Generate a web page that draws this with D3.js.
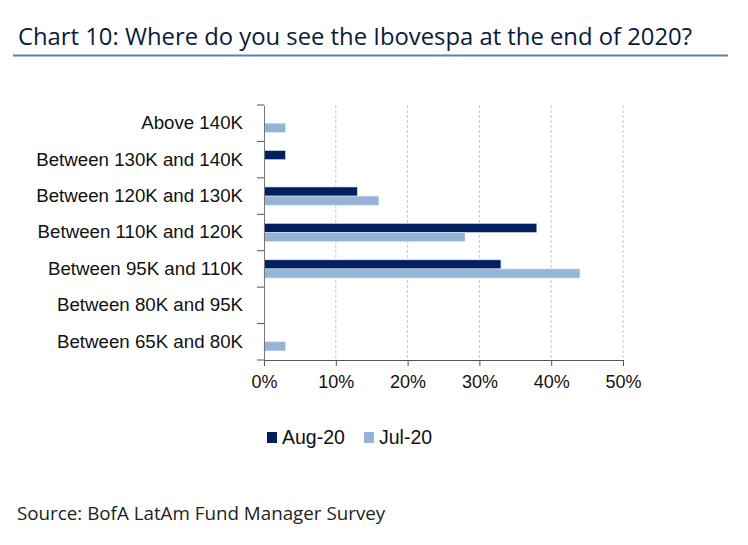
<!DOCTYPE html>
<html>
<head>
<meta charset="utf-8">
<script src="https://cdn.jsdelivr.net/npm/d3@7"></script>
<style>
  body { margin: 0; background: #fff; }
  svg { display: block; }
</style>
</head>
<body>
<svg id="chart" width="748" height="545"></svg>
<script>
const categories = [
  "Above 140K",
  "Between 130K and 140K",
  "Between 120K and 130K",
  "Between 110K and 120K",
  "Between 95K and 110K",
  "Between 80K and 95K",
  "Between 65K and 80K"
];
const seriesNames = ["Aug-20", "Jul-20"];
const aug20 = [0, 3, 13, 38, 33, 0, 0];
const jul20 = [3, 0, 16, 28, 44, 0, 3];
const xTicks = [0, 10, 20, 30, 40, 50];
const colors = ["#00205f", "#95b3d7"];

const svg = d3.select("#chart");

// title + rule
svg.append("text")
  .attr("x", 18).attr("y", 45)
  .attr("font-family", "'Open Sans', sans-serif")
  .attr("font-size", 24.5)
  .attr("textLength", 674)
  .attr("lengthAdjust", "spacingAndGlyphs")
  .attr("fill", "#0a1a3c")
  .text("Chart 10: Where do you see the Ibovespa at the end of 2020?");
svg.append("line")
  .attr("x1", 13).attr("x2", 728).attr("y1", 55.5).attr("y2", 55.5)
  .attr("stroke", "#5b7fb0").attr("stroke-width", 2.2);

const plotL = 264, plotR = 623, plotT = 105, plotB = 360;

const x = d3.scaleLinear().domain([0, 50]).range([plotL, plotR]);
const y = d3.scaleBand().domain(categories).range([plotT, plotB]);
const sub = d3.scaleBand().domain(seriesNames)
  .range([y.bandwidth() * 0.25, y.bandwidth() * 0.75]);

const g = svg.append("g").attr("font-family", "'Liberation Sans', Arial, sans-serif");

// dashed gridlines
g.selectAll(".grid")
  .data(xTicks.filter(d => d > 0))
  .join("line")
  .attr("class", "grid")
  .attr("x1", d => x(d)).attr("x2", d => x(d))
  .attr("y1", plotT).attr("y2", plotB)
  .attr("stroke", "#c8c8c8")
  .attr("stroke-dasharray", "3,2");

// bars
const rows = categories.map((c, i) => ({ cat: c, vals: [aug20[i], jul20[i]] }));
g.selectAll(".row")
  .data(rows)
  .join("g")
  .attr("class", "row")
  .attr("transform", d => `translate(0,${y(d.cat)})`)
  .selectAll("rect")
  .data(d => d.vals.map((v, j) => ({ name: seriesNames[j], v, j })).filter(e => e.v > 0))
  .join("rect")
  .attr("x", x(0))
  .attr("y", d => sub(d.name))
  .attr("width", d => x(d.v) - x(0))
  .attr("height", sub.bandwidth())
  .attr("fill", d => colors[d.j])
  .attr("stroke", "#dde6f2")
  .attr("stroke-width", 0.6);

// x axis
const xAxis = d3.axisBottom(x).tickValues(xTicks).tickFormat(d => d + "%").tickSize(6).tickSizeOuter(0);
const gx = g.append("g").attr("transform", `translate(0,${plotB})`).call(xAxis);
gx.select(".domain").attr("stroke", "#555");
gx.selectAll(".tick line").attr("stroke", "#555");
gx.selectAll(".tick text").attr("font-size", 18).attr("fill", "#111").attr("dy", "1.05em");

// y axis: ticks at category boundaries
const yAxis = d3.axisLeft(y).tickSize(0).tickPadding(21);
const gy = g.append("g").attr("transform", `translate(${plotL},0)`).call(yAxis);
gy.select(".domain").attr("stroke", "#777");
gy.selectAll(".tick text").attr("font-size", 18.7).attr("fill", "#111");
gy.selectAll(".bound")
  .data(categories.map(c => y(c)).concat([plotB]))
  .join("line")
  .attr("class", "bound")
  .attr("x1", -7).attr("x2", 0)
  .attr("y1", d => d).attr("y2", d => d)
  .attr("stroke", "#555");

// legend
const legend = g.append("g").attr("transform", "translate(267,432)");
const legX = [0, 97];
seriesNames.forEach((n, i) => {
  legend.append("rect").attr("x", legX[i]).attr("y", 0).attr("width", 10).attr("height", 11).attr("fill", colors[i]);
  legend.append("text").attr("x", legX[i] + 15).attr("y", 12).attr("font-size", 19.5).attr("fill", "#111").text(n);
});

// source
svg.append("text")
  .attr("x", 17).attr("y", 520)
  .attr("font-family", "'Open Sans', sans-serif")
  .attr("font-size", 18.8)
  .attr("fill", "#222")
  .text("Source: BofA LatAm Fund Manager Survey");
</script>
</body>
</html>
